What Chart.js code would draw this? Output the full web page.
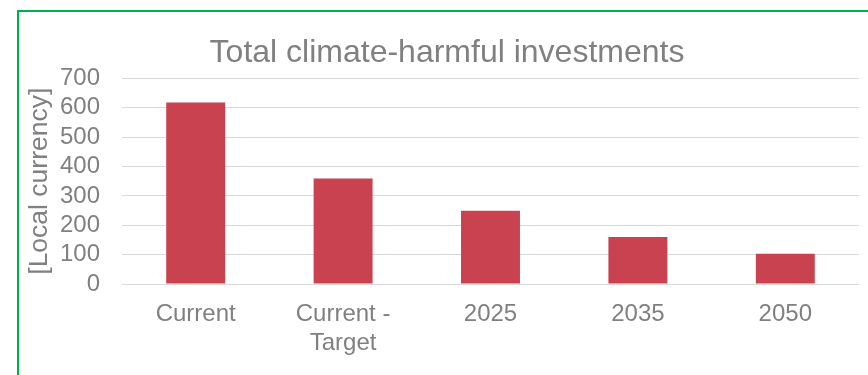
<!DOCTYPE html>
<html>
<head>
<meta charset="utf-8">
<script src="https://cdn.jsdelivr.net/npm/chart.js@4"></script>
<style>
  html, body { margin: 0; padding: 0; background: #fff; overflow: hidden; }
  #frame {
    position: absolute; left: 17px; top: 10px;
    width: 856px; height: 380px;
    border: 2px solid #00B050;
  }
  #wrap { position: absolute; left: 0; top: 0; width: 856px; height: 363px; }
</style>
</head>
<body>
<div id="frame">
  <div id="wrap"><canvas id="chart"></canvas></div>
</div>
<script>
// chart data
const categories = ['Current', ['Current -', 'Target'], '2025', '2035', '2050'];
const investments = [618, 359, 249, 160, 103];
const yTicks = [0, 100, 200, 300, 400, 500, 600, 700];

const textGrey = '#808080';
const font = 'Arial, "Liberation Sans", sans-serif';

const ctx = document.getElementById('chart').getContext('2d');
new Chart(ctx, {
    type: 'bar',
    data: {
        labels: categories,
        datasets: [{
            label: 'Total climate-harmful investments',
            data: investments,
            backgroundColor: '#C8434F',
            borderWidth: 0,
            categoryPercentage: 1,
            barPercentage: 0.4
        }]
    },
    options: {
        responsive: true,
        maintainAspectRatio: false,
        animation: false,
        // equal side padding keeps the title centred on the frame
        layout: { padding: { left: 16, right: 16, top: 0, bottom: 0 } },
        plugins: {
            legend: { display: false },
            tooltip: { enabled: false },
            title: {
                display: true,
                text: 'Total climate-harmful investments',
                color: textGrey,
                font: { family: font, size: 32, weight: 'normal' },
                padding: { top: 22, bottom: 6 }
            }
        },
        scales: {
            x: {
                afterFit: (scale) => { scale.height = 91; },
                grid: { display: false, drawTicks: false },
                border: { display: false },
                ticks: {
                    color: textGrey,
                    font: { family: font, size: 24 },
                    padding: 16,
                    maxRotation: 0,
                    autoSkip: false
                }
            },
            y: {
                min: 0,
                max: 700,
                afterBuildTicks: (scale) => {
                    scale.ticks = yTicks.map(v => ({ value: v }));
                },
                afterFit: (scale) => { scale.width = 87; },
                grid: { color: '#d9d9d9', lineWidth: 1, drawTicks: false },
                border: { display: false },
                ticks: {
                    color: textGrey,
                    font: { family: font, size: 24 },
                    padding: 22,
                    autoSkip: false
                },
                title: {
                    display: true,
                    text: '[Local currency]',
                    color: textGrey,
                    font: { family: font, size: 26.5 },
                    padding: { top: -11, bottom: 0 }
                }
            }
        }
    }
});
</script>
</body>
</html>
